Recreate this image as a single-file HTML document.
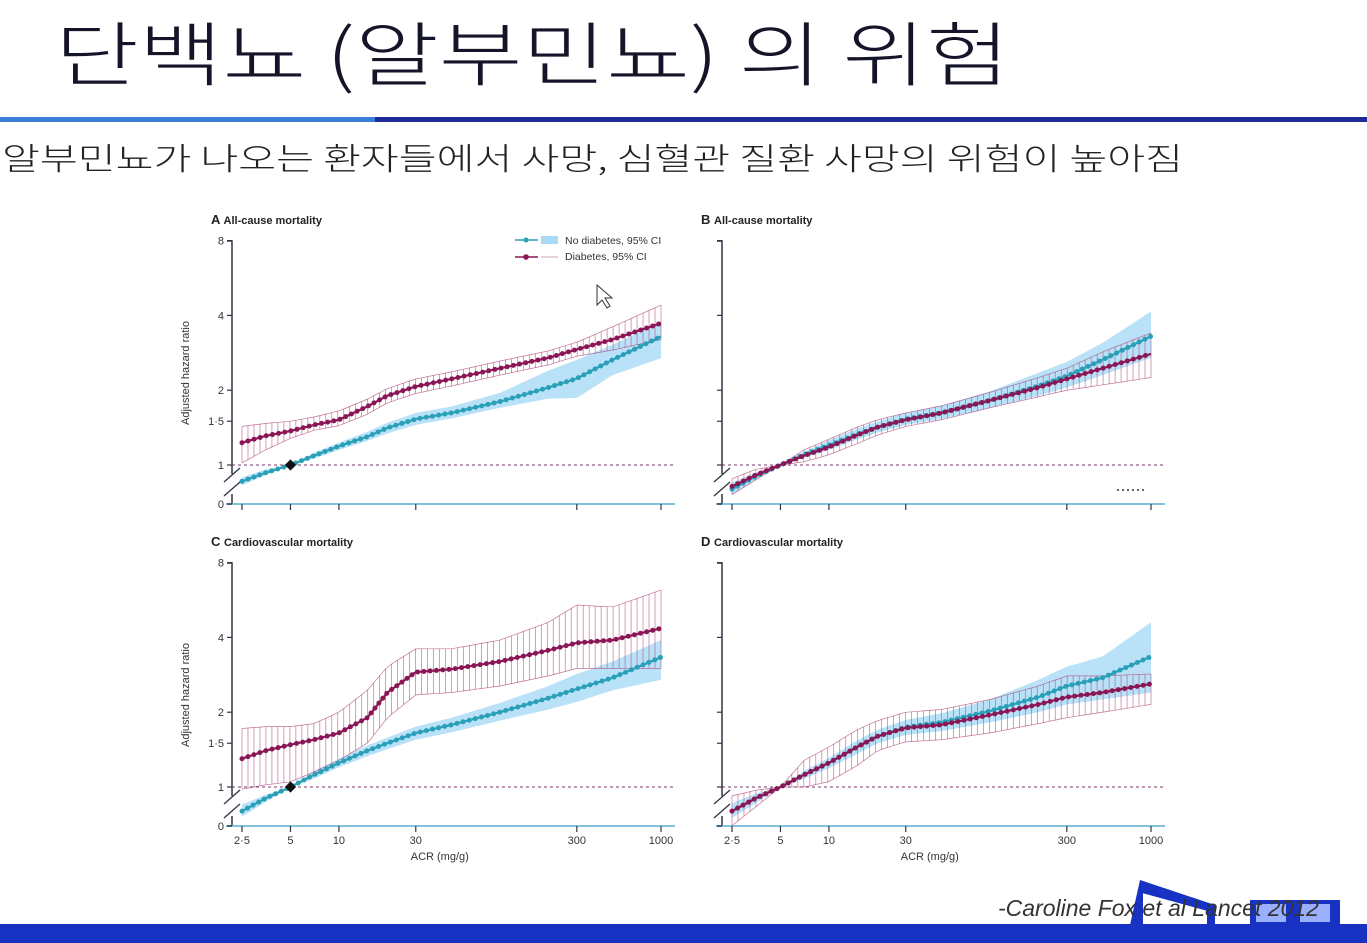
<!DOCTYPE html>
<html><head><meta charset="utf-8">
<style>
html,body{margin:0;padding:0;background:#fff;}
svg{display:block;}
</style></head>
<body>
<svg id="page" width="1367" height="943" viewBox="0 0 1367 943" xmlns="http://www.w3.org/2000/svg" font-family="Liberation Sans, sans-serif">
<rect width="1367" height="943" fill="#ffffff"/>
<text x="55" y="80" font-size="70" font-weight="300" fill="#15152a" textLength="955" lengthAdjust="spacingAndGlyphs" font-family="Noto Sans CJK KR, Liberation Sans, sans-serif">단백뇨 (알부민뇨) 의 위험</text>
<rect x="0" y="117" width="375" height="5" fill="#3a7fd8"/>
<rect x="375" y="117" width="992" height="5" fill="#1e2a9a"/>
<text x="2" y="170" font-size="31" font-weight="300" fill="#222" textLength="1181" lengthAdjust="spacingAndGlyphs" font-family="Noto Sans CJK KR, Liberation Sans, sans-serif">알부민뇨가 나오는 환자들에서 사망, 심혈관 질환 사망의 위험이 높아짐</text>
<g id="charts"></g>
<g>
<rect x="0" y="924" width="1367" height="19" fill="#1832c4"/>
<path d="M1130 925 L1140 880 L1215 905 L1215 925 Z" fill="#1832c4"/>
<path d="M1142 892 L1208 910 L1208 925 L1142 925 Z" fill="#fff" stroke="#1832c4" stroke-width="2"/>
<rect x="1250" y="900" width="90" height="25" fill="#1832c4"/>
<rect x="1256" y="904" width="30" height="18" fill="#9ab0ff"/>
<rect x="1300" y="904" width="30" height="18" fill="#9ab0ff"/>
<text x="998" y="916" font-size="23" font-style="italic" fill="#333">-Caroline Fox et al Lancet 2012</text>
</g>
</svg>
<script>
const xTicks = [2.5, 5, 10, 30, 300, 1000];
const xTickLabels = ["2·5", "5", "10", "30", "300", "1000"];
const yTicks = [1, 1.5, 2, 4, 8];
const yTickLabels = ["1", "1·5", "2", "4", "8"];
const acr = [2.5, 3.5, 5, 7, 10, 15, 20, 30, 50, 100, 200, 300, 500, 1000];

const aNoDm   = [0.86,0.93,1.0,1.09,1.19,1.30,1.41,1.53,1.62,1.80,2.05,2.23,2.65,3.29];
const aNoDmLo = [0.83,0.91,1.0,1.06,1.15,1.25,1.34,1.45,1.54,1.70,1.85,1.86,2.30,2.69];
const aNoDmHi = [0.89,0.96,1.0,1.12,1.23,1.36,1.48,1.62,1.72,1.95,2.40,2.65,3.05,3.75];
const aDm     = [1.23,1.31,1.37,1.45,1.52,1.72,1.90,2.07,2.22,2.45,2.70,2.92,3.20,3.72];
const aDmLo   = [1.02,1.15,1.28,1.38,1.44,1.60,1.78,1.94,2.08,2.30,2.53,2.74,2.90,3.20];
const aDmHi   = [1.43,1.47,1.50,1.56,1.65,1.84,2.03,2.22,2.37,2.62,2.88,3.12,3.60,4.40];

const bNoDm   = [0.80,0.90,1.0,1.10,1.20,1.33,1.42,1.53,1.62,1.82,2.08,2.28,2.65,3.30];
const bNoDmLo = [0.76,0.87,1.0,1.07,1.15,1.27,1.35,1.45,1.53,1.70,1.90,2.05,2.30,2.70];
const bNoDmHi = [0.85,0.93,1.0,1.13,1.26,1.40,1.50,1.62,1.73,1.98,2.35,2.60,3.10,4.15];
const bDm     = [0.82,0.91,1.0,1.09,1.18,1.32,1.42,1.52,1.62,1.82,2.05,2.22,2.45,2.80];
const bDmLo   = [0.76,0.87,1.0,1.03,1.10,1.22,1.32,1.43,1.52,1.70,1.88,2.00,2.10,2.25];
const bDmHi   = [0.88,0.96,1.0,1.15,1.27,1.42,1.52,1.62,1.73,1.96,2.25,2.45,2.85,3.40];

const cNoDm   = [0.80,0.90,1.0,1.12,1.25,1.40,1.50,1.65,1.78,2.00,2.28,2.48,2.75,3.33];
const cNoDmLo = [0.76,0.87,1.0,1.08,1.20,1.33,1.42,1.55,1.66,1.85,2.05,2.20,2.45,2.70];
const cNoDmHi = [0.85,0.93,1.0,1.16,1.30,1.47,1.58,1.75,1.90,2.18,2.55,2.85,3.20,3.90];
const cDm     = [1.30,1.40,1.48,1.55,1.65,1.90,2.40,2.90,2.98,3.20,3.55,3.80,3.90,4.35];
const cDmLo   = [0.98,1.02,1.05,1.15,1.28,1.50,1.90,2.35,2.40,2.55,2.80,3.00,3.00,3.00];
const cDmHi   = [1.72,1.75,1.75,1.80,2.00,2.45,3.05,3.60,3.60,3.90,4.60,5.40,5.30,6.20];

const dNoDm   = [0.80,0.90,1.0,1.12,1.25,1.45,1.60,1.74,1.82,2.02,2.30,2.55,2.75,3.35];
const dNoDmLo = [0.75,0.86,1.0,1.08,1.19,1.36,1.50,1.62,1.68,1.82,2.00,2.15,2.25,2.40];
const dNoDmHi = [0.86,0.94,1.0,1.16,1.31,1.54,1.70,1.86,1.98,2.25,2.70,3.05,3.35,4.60];
const dDm     = [0.80,0.90,1.0,1.12,1.25,1.45,1.60,1.73,1.78,1.95,2.15,2.30,2.40,2.60];
const dDmLo   = [0.70,0.83,1.0,1.00,1.05,1.22,1.40,1.52,1.55,1.65,1.80,1.90,2.00,2.15];
const dDmHi   = [0.92,0.97,1.0,1.28,1.45,1.70,1.85,2.00,2.05,2.25,2.55,2.80,2.80,2.85];

const NS = "http://www.w3.org/2000/svg";
const root = document.getElementById('charts');
function mk(tag, attrs, parent){ const e=document.createElementNS(NS,tag); for(const k in attrs) e.setAttribute(k,attrs[k]); parent.appendChild(e); return e; }

const panels = [
  {id:'a', letter:'A', title:'All-cause mortality', ox:232, oy:0, noDm:aNoDm, noLo:aNoDmLo, noHi:aNoDmHi, dm:aDm, dmLo:aDmLo, dmHi:aDmHi, labels:true, legend:true, xlab:false},
  {id:'b', letter:'B', title:'All-cause mortality', ox:722, oy:0, noDm:bNoDm, noLo:bNoDmLo, noHi:bNoDmHi, dm:bDm, dmLo:bDmLo, dmHi:bDmHi, labels:false, legend:false, xlab:false},
  {id:'c', letter:'C', title:'Cardiovascular mortality', ox:232, oy:322, noDm:cNoDm, noLo:cNoDmLo, noHi:cNoDmHi, dm:cDm, dmLo:cDmLo, dmHi:cDmHi, labels:true, legend:false, xlab:true},
  {id:'d', letter:'D', title:'Cardiovascular mortality', ox:722, oy:322, noDm:dNoDm, noLo:dNoDmLo, noHi:dNoDmHi, dm:dDm, dmLo:dDmLo, dmHi:dDmHi, labels:false, legend:false, xlab:true}
];

function interp(arr, lx){
  const la = acr.map(v=>Math.log10(v));
  for(let i=0;i<la.length-1;i++){ if(lx<=la[i+1]){ const t=(lx-la[i])/(la[i+1]-la[i]); return Math.exp(Math.log(arr[i])*(1-t)+Math.log(arr[i+1])*t);} }
  return arr[arr.length-1];
}

panels.forEach(p=>{
  const g = mk('g',{},root);
  
  
  const x0 = p.ox+10, x1 = p.ox+429;
  const xs = v => x0 + (Math.log10(v)-Math.log10(2.5))/(3-Math.log10(2.5))*(x1-x0);
  const y1 = p.oy+465;
  const ys = v => y1 - Math.log2(v)*74.8;
  const yZero = p.oy+504;
  const dark='#333344';

  const t = mk('text',{x:p.ox-21,y:p.oy+224,'font-size':12,'font-weight':'bold',fill:'#222'},g);
  
  
  mk('tspan',{'font-size':13},t).textContent = p.letter+'  ';
  mk('tspan',{'font-size':11},t).textContent = p.title;

  const N=70, la0=Math.log10(2.5);
  let up='', lo='';
  for(let i=0;i<=N;i++){ const lx=la0+(3-la0)*i/N; const xv=Math.pow(10,lx);
    up += (i?'L':'M')+xs(xv).toFixed(1)+' '+ys(interp(p.noHi,lx)).toFixed(1)+' ';
  }
  for(let i=N;i>=0;i--){ const lx=la0+(3-la0)*i/N; const xv=Math.pow(10,lx);
    lo += 'L'+xs(xv).toFixed(1)+' '+ys(interp(p.noLo,lx)).toFixed(1)+' ';
  }
  const band = mk('path',{d:up+lo+'Z',fill:'#a8daf5','fill-opacity':0.8},g);
  
  

  const wg = mk('g',{stroke:'#b0457a','stroke-width':0.7,'stroke-opacity':0.75,fill:'none'},g);
  
  
  let dUp='', dLo='';
  for(let i=0;i<=N;i++){ const lx=la0+(3-la0)*i/N; const X=xs(Math.pow(10,lx));
    const yh=ys(interp(p.dmHi,lx)), yl=ys(interp(p.dmLo,lx));
    mk('line',{x1:X,x2:X,y1:yh,y2:yl},wg);
    dUp += (i?'L':'M')+X.toFixed(1)+' '+yh.toFixed(1)+' ';
    dLo += (i?'L':'M')+X.toFixed(1)+' '+yl.toFixed(1)+' ';
  }
  mk('path',{d:dUp},wg); mk('path',{d:dLo},wg);

  const ref = mk('line',{x1:p.ox,x2:x1+12,y1:y1,y2:y1,stroke:'#7a3a6a','stroke-width':1,'stroke-dasharray':'3 3'},g);
  
  

  function series(arr,color,name){
    let d='';
    acr.forEach((v,i)=>{ d+=(i?'L':'M')+xs(v).toFixed(1)+' '+ys(arr[i]).toFixed(1)+' '; });
    const s=mk('path',{d:d,fill:'none',stroke:color,'stroke-width':2.2},g);
    
    
    const s2=mk('path',{d:d,fill:'none',stroke:color,'stroke-width':5,'stroke-linecap':'round','stroke-dasharray':'0 6.3'},g);
    
    
  }
  series(p.noDm,'#2a9fb8','no-diabetes');
  series(p.dm,'#8a1656','diabetes');
  if(p.id==='a'||p.id==='c'){
    const r=mk('rect',{x:xs(5)-4,y:ys(1)-4,width:8,height:8,fill:'#111',transform:`rotate(45 ${xs(5)} ${ys(1)})`},g);
    
    
  }

  const yax = mk('path',{d:`M${p.ox-5} ${p.oy+241} H${p.ox} V${p.oy+474} M${p.ox} ${p.oy+494} V${yZero}`,stroke:dark,'stroke-width':1.5,fill:'none'},g);
  
  
  mk('path',{d:`M${p.ox-8} ${p.oy+482} L${p.ox+8} ${p.oy+468} M${p.ox-8} ${p.oy+496} L${p.ox+8} ${p.oy+482}`,stroke:dark,'stroke-width':1.3,fill:'none'},g);
  const xax = mk('line',{x1:p.ox-6,x2:x1+14,y1:yZero,y2:yZero,stroke:'#5aaed0','stroke-width':1.5},g);
  
  
  mk('line',{x1:p.ox-5,x2:p.ox,y1:yZero,y2:yZero,stroke:dark,'stroke-width':1.5},g);
  yTicks.forEach((v,i)=>{
    mk('line',{x1:p.ox-5,x2:p.ox,y1:ys(v),y2:ys(v),stroke:dark,'stroke-width':1.2},g);
    if(p.labels){ const tl=mk('text',{x:p.ox-8,y:ys(v)+4,'font-size':11,fill:'#333','text-anchor':'end'},g);
      
      
      tl.textContent=yTickLabels[i]; }
  });
  if(p.labels){ const z=mk('text',{x:p.ox-8,y:yZero+4,'font-size':11,fill:'#333','text-anchor':'end'},g); z.textContent='0';
    const yl=mk('text',{x:0,y:0,'font-size':11,fill:'#333','text-anchor':'middle',transform:`translate(${p.ox-43} ${p.oy+373}) rotate(-90)`},g);
    
    
    yl.textContent='Adjusted hazard ratio';
  }
  xTicks.forEach((v,i)=>{
    mk('line',{x1:xs(v),x2:xs(v),y1:yZero,y2:yZero+6,stroke:dark,'stroke-width':1.2},g);
    if(p.xlab){ const tl=mk('text',{x:xs(v),y:yZero+18,'font-size':11,fill:'#333','text-anchor':'middle'},g);
      
      
      tl.textContent=xTickLabels[i]; }
  });
  if(p.xlab){ const xl=mk('text',{x:xs(30)+24,y:yZero+34,'font-size':11,fill:'#333','text-anchor':'middle'},g);
    
    
    xl.textContent='ACR (mg/g)'; }

  if(p.legend){
    const lg=mk('g',{},g);
    
    
    mk('line',{x1:515,x2:538,y1:240,y2:240,stroke:'#2a9fb8','stroke-width':1.5},lg);
    mk('circle',{cx:526,cy:240,r:2.5,fill:'#2a9fb8'},lg);
    mk('rect',{x:541,y:236,width:17,height:8,fill:'#a8daf5'},lg);
    const l1=mk('text',{x:565,y:244,'font-size':10.5,fill:'#333'},lg); l1.textContent='No diabetes, 95% CI';
    mk('line',{x1:515,x2:538,y1:257,y2:257,stroke:'#8a1656','stroke-width':1.5},lg);
    mk('circle',{cx:526,cy:257,r:2.8,fill:'#8a1656'},lg);
    mk('line',{x1:541,x2:558,y1:257,y2:257,stroke:'#c080a0','stroke-width':0.8},lg);
    const l2=mk('text',{x:565,y:260,'font-size':10.5,fill:'#333'},lg); l2.textContent='Diabetes, 95% CI';
  }
});
mk('line',{x1:1117,x2:1147,y1:490,y2:490,stroke:'#333','stroke-width':1.5,'stroke-dasharray':'2 3'},root);
const cur=mk('path',{d:'M597 285 L597 305 L602 300 L607 308 L610 306 L605 298 L612 298 Z',fill:'#fff',stroke:'#333','stroke-width':1},root);


</script>
</body></html>
